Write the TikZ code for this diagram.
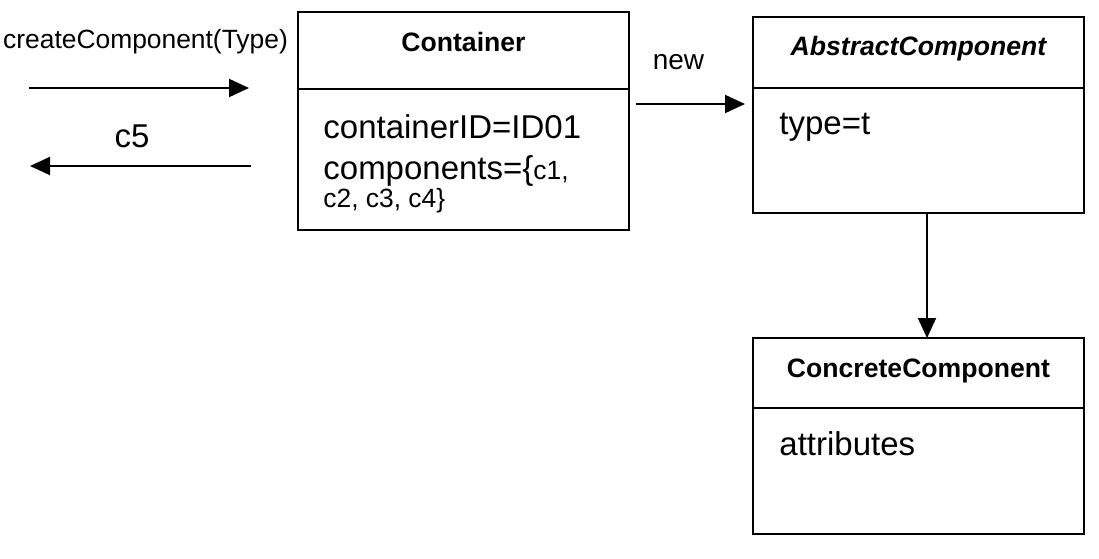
\documentclass[tikz,border=0pt]{standalone}
\usepackage{fontspec}
\setmainfont{Liberation Sans}
\usetikzlibrary{positioning,arrows.meta}

\begin{document}
\begin{tikzpicture}[x=0.5pt, y=-0.5pt,
		box/.style={draw, line width=1pt, outer sep=0pt, minimum width=165.5pt},
		classname/.style={box, font=\fontsize{13.3}{16}\selectfont\bfseries, text depth=#1},
		classname/.default=5pt,
		attr/.style={inner sep=0pt, align=left, font=\fontsize{16.5}{20.5}\selectfont},
		msg/.style={line width=1pt, -{Triangle[length=10pt, width=9pt]}}]
			%%%%% START %%%%%
			
			\useasboundingbox (0, 0) rectangle (1099, 558);
			
			\node[classname=8.5pt, minimum height=38.5pt, anchor=north west] (cont) at (298, 12) {Container};
			\node[box, minimum height=70.5pt, below=0pt of cont] (contbody) {};
			\node[attr, below right=12.5pt and 12.5pt of contbody.north west] (contattr) {containerID=ID01\\ components=\{{\fontsize{13.2}{15.5}\selectfont c1,}\\[-6.5pt] {\fontsize{13.2}{15.5}\selectfont c2, c3, c4\}}};
			
			\node[classname=7pt, minimum height=35.5pt, anchor=north west] (abs) at (753, 17) {\itshape AbstractComponent};
			\node[box, minimum height=62.5pt, below=0pt of abs] (absbody) {};
			\node[attr, below right=12.5pt and 13pt of absbody.north west] (absattr) {type=t};
			
			\node[classname=4.5pt, minimum height=35pt, anchor=north west] (conc) at (753, 338) {ConcreteComponent};
			\node[box, minimum height=63pt, below=0pt of conc] (concbody) {};
			\node[attr, below right=11.5pt and 13pt of concbody.north west] (concattr) {attributes};
			
			\coordinate (reqstart) at (29, 88);
			\coordinate (reqend) at (249, 88);
			\coordinate (retstart) at (251, 166);
			\coordinate (retend) at (30, 166);
			
			\draw[msg] (reqstart) -- node[above=16.5pt, xshift=3.25pt, inner sep=0pt, font=\fontsize{13.2}{16}\selectfont] (reqlabel) {createComponent(Type)} (reqend);
			\draw[msg] (retstart) -- node[above=8.75pt, xshift=-4.25pt, inner sep=0pt, font=\fontsize{16.5}{20}\selectfont] (retlabel) {c5} (retend);
			
			\draw[msg] ([xshift=3.5pt, yshift=-7.5pt]contbody.north east) -- node[above=16.5pt, xshift=-6pt, inner sep=0pt, font=\fontsize{14}{17}\selectfont] (newlabel) {new} ([xshift=-4pt, yshift=-8pt]absbody.north west);
			\draw[msg] ([xshift=4.25pt]absbody.south) -- ([xshift=4.25pt]conc.north);
			
			%%%%% END %%%%%
		\end{tikzpicture}
\end{document}
